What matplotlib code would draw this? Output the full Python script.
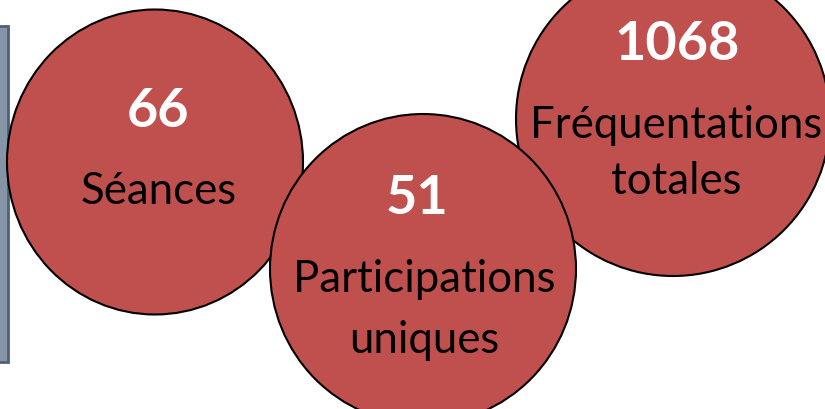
import matplotlib.pyplot as plt
from matplotlib.patches import Ellipse, Rectangle

values = [66, 51, 1068]
labels = ['Séances', 'Participations\nuniques', 'Fréquentations\ntotales']

# layout in pixel coords (x, y centre, width, height), drawn in this order
centres = [(155, 163), (423, 270), (673, 120)]
sizes = [(296, 305), (306, 310), (314, 314)]
order = [0, 2, 1]
num_xy = [(158, 127), (417, 214), (677, 60)]
lab_x = [159, 424, 676]
lab_y = [[204], [292, 353], [138, 194]]

plt.rcParams['font.family'] = ['Lato', 'DejaVu Sans']

fig = plt.figure(figsize=(8.25, 4.10), dpi=100)
ax = fig.add_axes([0, 0, 1, 1])
ax.set_xlim(0, 825)
ax.set_ylim(410, 0)
ax.axis('off')

# grey side bar on the left
ax.add_patch(Rectangle((-5, 27), 13, 336, facecolor='#8594A6',
                       edgecolor='#4F6178', linewidth=2))

for i in order:
    cx, cy = centres[i]
    w, h = sizes[i]
    ax.add_patch(Ellipse((cx, cy), w, h, facecolor='#C0504D',
                         edgecolor='black', linewidth=1.5, zorder=2 + order.index(i)))
    z = 2 + order.index(i) + 0.5
    ax.text(num_xy[i][0], num_xy[i][1], str(values[i]), ha='center', va='baseline',
            fontsize=39, fontweight='bold', color='white', zorder=z)
    for line, y in zip(labels[i].split('\n'), lab_y[i]):
        ax.text(lab_x[i], y, line, ha='center', va='baseline',
                fontsize=31.5, color='black', zorder=z)

fig.savefig('out.png', dpi=100)
